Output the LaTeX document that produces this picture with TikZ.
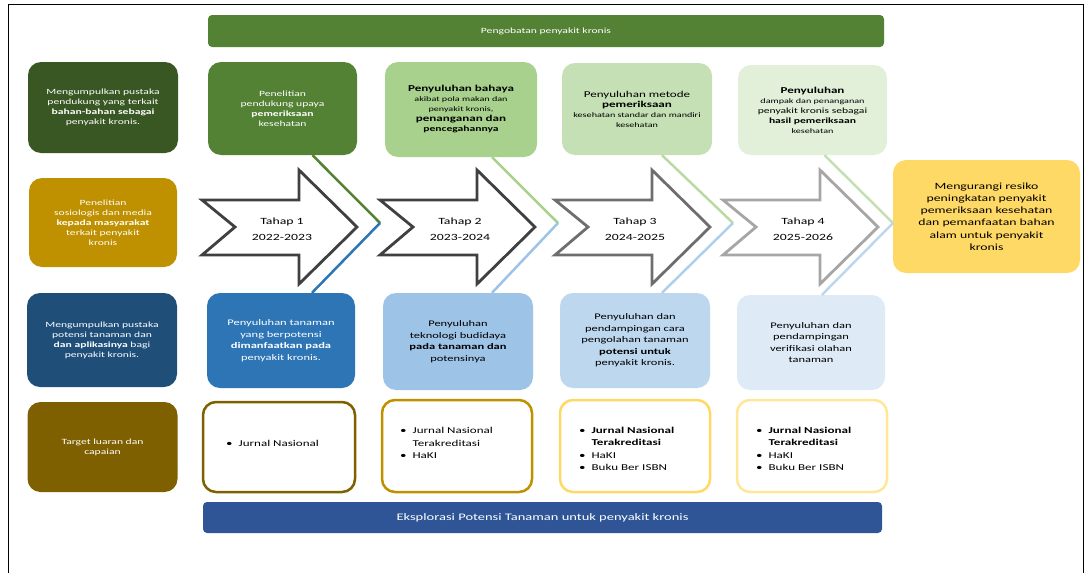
\documentclass[tikz,border=0pt]{standalone}
\usepackage{fontspec}
\setmainfont{Carlito}[FakeStretch=1.45]
\definecolor{gA}{HTML}{548235}
\definecolor{gD}{HTML}{385723}
\definecolor{gB}{HTML}{A9D18E}
\definecolor{gC}{HTML}{C5E0B4}
\definecolor{gE}{HTML}{E2F0D9}
\definecolor{yA}{HTML}{BF9000}
\definecolor{yB}{HTML}{7F6000}
\definecolor{yC}{HTML}{FFD966}
\definecolor{yD}{HTML}{FFE699}
\definecolor{bA}{HTML}{1F4E79}
\definecolor{bB}{HTML}{2E75B6}
\definecolor{bC}{HTML}{9DC3E6}
\definecolor{bD}{HTML}{BDD7EE}
\definecolor{bE}{HTML}{DEEBF7}
\definecolor{bF}{HTML}{2F5597}
\definecolor{aA}{HTML}{404040}
\definecolor{aC}{HTML}{6E6E6E}
\definecolor{aD}{HTML}{A6A6A6}
\newcommand{\smalltxt}{\fontsize{7}{9}\selectfont}
\tikzset{
  box/.style={rounded corners=13pt, align=center, inner sep=2pt,
    font=\fontsize{8}{10}\selectfont},
  midbox/.style={box, font=\fontsize{8.6}{11.5}\selectfont},
  outbox/.style={rounded corners=13pt, draw, line width=2.5pt, fill=white,
    minimum width=150pt, minimum height=90pt},
  outtext/.style={align=left, anchor=west, inner sep=0pt,
    font=\fontsize{9}{12.5}\selectfont},
  banner/.style={rounded corners=4pt, text=white, inner sep=0pt},
  tahap/.style={draw, line width=2.8pt, fill=white, line join=miter},
  tahaptext/.style={align=center, inner sep=0pt, font=\fontsize{9.5}{16}\selectfont},
  callout/.style={line width=2.5pt},
}
\begin{document}
\begin{tikzpicture}[x=1pt,y=-1pt]
\useasboundingbox (0,0) rectangle (1087,573);
% frame
\draw[black, line width=0.8pt] (8,573) -- (8,4) -- (1083,4) -- (1083,573);

% banners
\node[banner, fill=gA, minimum width=676pt, minimum height=32pt,
  font=\fontsize{8}{9}\selectfont] (top) at (546,31) {Pengobatan penyakit kronis};
\node[banner, fill=bF, minimum width=679pt, minimum height=31pt,
  font=\fontsize{10}{11}\selectfont] (bot) at (542.5,517.5) {Eksplorasi Potensi Tanaman untuk penyakit kronis};

% left column
\node[box, fill=gD, text=white, minimum width=150pt, minimum height=91pt] (L1) at (103,107.5)
  {Mengumpulkan pustaka\\pendukung yang terkait\\\textbf{bahan-bahan sebagai}\\penyakit kronis.};
\node[box, fill=yA, text=white, minimum width=148pt, minimum height=89pt] (L2) at (103,222.5)
  {Penelitian\\sosiologis dan media\\\textbf{kepada masyarakat}\\terkait penyakit\\kronis};
\node[box, fill=bA, text=white, minimum width=150pt, minimum height=94pt] (L3) at (102,340)
  {Mengumpulkan pustaka\\potensi tanaman dan\\\textbf{dan aplikasinya} bagi\\penyakit kronis.};
\node[box, fill=yB, text=white, minimum width=150pt, minimum height=90pt] (L4) at (102.5,447)
  {Target luaran dan\\capaian};

% arrows
\foreach \xo/\col/\n/\yr in {202/aA/1/2022-2023, 380/aA/2/2023-2024, 555/aC/3/2024-2025, 723/aD/4/2025-2026}{
  \draw[tahap, draw=\col] (\xo,200) -- (\xo+97,200) -- (\xo+97,170) -- (\xo+155,227)
     -- (\xo+97,284) -- (\xo+97,255) -- (\xo,255) -- (\xo+33,227) -- cycle;
  \node[tahaptext] (A\n) at (\xo+80,229) {Tahap \n\\\yr};
}

% top row
\node[box, fill=gA, text=white, minimum width=149pt, minimum height=93pt] (T1) at (282.5,108.5)
  {Penelitian\\pendukung upaya\\\textbf{pemeriksaan}\\kesehatan};
\node[box, fill=gB, text=black, minimum width=152pt, minimum height=95pt] (T2) at (461,109.5)
  {\textbf{\fontsize{9}{10}\selectfont Penyuluhan bahaya}\\{\smalltxt akibat pola makan dan}\\{\smalltxt penyakit kronis,}\\\textbf{\fontsize{9}{10}\selectfont penanganan dan}\\\textbf{pencegahannya}};
\node[box, fill=gC, text=black, minimum width=150pt, minimum height=92pt] (T3) at (637,109)
  {{\fontsize{9}{10}\selectfont Penyuluhan metode}\\\textbf{\fontsize{9}{10}\selectfont pemeriksaan}\\{\smalltxt kesehatan standar dan mandiri}\\{\smalltxt kesehatan}};
\node[box, fill=gE, text=black, minimum width=149pt, minimum height=90pt] (T4) at (812.5,110)
  {\textbf{\fontsize{9}{10}\selectfont Penyuluhan}\\{\smalltxt dampak dan penanganan}\\penyakit kronis sebagai\\\textbf{hasil pemeriksaan}\\{\smalltxt kesehatan}};

% right box
\node[box, fill=yC, text=black, minimum width=187pt, minimum height=113pt,
  font=\fontsize{9.5}{12.3}\selectfont] (R) at (986.5,216.5)
  {Mengurangi resiko\\peningkatan penyakit\\pemeriksaan kesehatan\\dan pemanfaatan bahan\\alam untuk penyakit\\kronis};

% bottom row
\node[midbox, fill=bB, text=white, minimum width=148pt, minimum height=95pt] (B1) at (281,340.5)
  {Penyuluhan tanaman\\yang berpotensi\\\textbf{dimanfaatkan pada}\\penyakit kronis.};
\node[midbox, fill=bC, text=black, minimum width=150pt, minimum height=97pt] (B2) at (458,341.5)
  {Penyuluhan\\teknologi budidaya\\\textbf{pada tanaman dan}\\potensinya};
\node[midbox, fill=bD, text=black, minimum width=150pt, minimum height=95pt] (B3) at (635,340.5)
  {Penyuluhan dan\\pendampingan cara\\pengolahan tanaman\\\textbf{potensi untuk}\\penyakit kronis.};
\node[midbox, fill=bE, text=black, minimum width=148pt, minimum height=95pt] (B4) at (811,342.5)
  {Penyuluhan dan\\pendampingan\\verifikasi olahan\\tanaman};

% outputs
\node[outbox, draw=yB, minimum width=152pt] (O1) at (279,447) {};
\node[outbox, draw=yA, minimum height=92pt] (O2) at (457,446) {};
\node[outbox, draw=yC, minimum height=92pt] (O3) at (635,446) {};
\node[outbox, draw=yD, minimum height=92pt] (O4) at (812,446) {};
\node[outtext] (O1t) at (226,443) {\textbullet\ \ Jurnal Nasional};
\node[outtext] (O2t) at (400,443) {\textbullet\ \ Jurnal Nasional\\\phantom{\textbullet\ \ }Terakreditasi\\\textbullet\ \ HaKI};
\node[outtext] (O3t) at (579,449) {\textbullet\ \ \textbf{Jurnal Nasional}\\\phantom{\textbullet\ \ }\textbf{Terakreditasi}\\\textbullet\ \ HaKI\\\textbullet\ \ Buku Ber ISBN};
\node[outtext] (O4t) at (756,449) {\textbullet\ \ \textbf{Jurnal Nasional}\\\phantom{\textbullet\ \ }\textbf{Terakreditasi}\\\textbullet\ \ HaKI\\\textbullet\ \ Buku Ber ISBN};

% callout connectors
\coordinate (c1) at (380,223);
\coordinate (c2) at (558,223);
\coordinate (c3) at (733,223);
\coordinate (c4) at (893,223);
\draw[callout, gA] ([xshift=30pt]T1.south) -- (c1);
\draw[callout, bB] (c1) -- ([xshift=31pt]B1.north);
\draw[callout, gB] ([xshift=31pt]T2.south) -- (c2);
\draw[callout, bC] (c2) -- ([xshift=34pt]B2.north);
\draw[callout, gB!80] ([xshift=25pt]T3.south) -- (c3);
\draw[callout, bC!80] (c3) -- ([xshift=27pt]B3.north);
\draw[callout, gC] ([xshift=12pt]T4.south) -- (c4);
\draw[callout, bD] (c4) -- ([xshift=11pt]B4.north);
\end{tikzpicture}
\end{document}
